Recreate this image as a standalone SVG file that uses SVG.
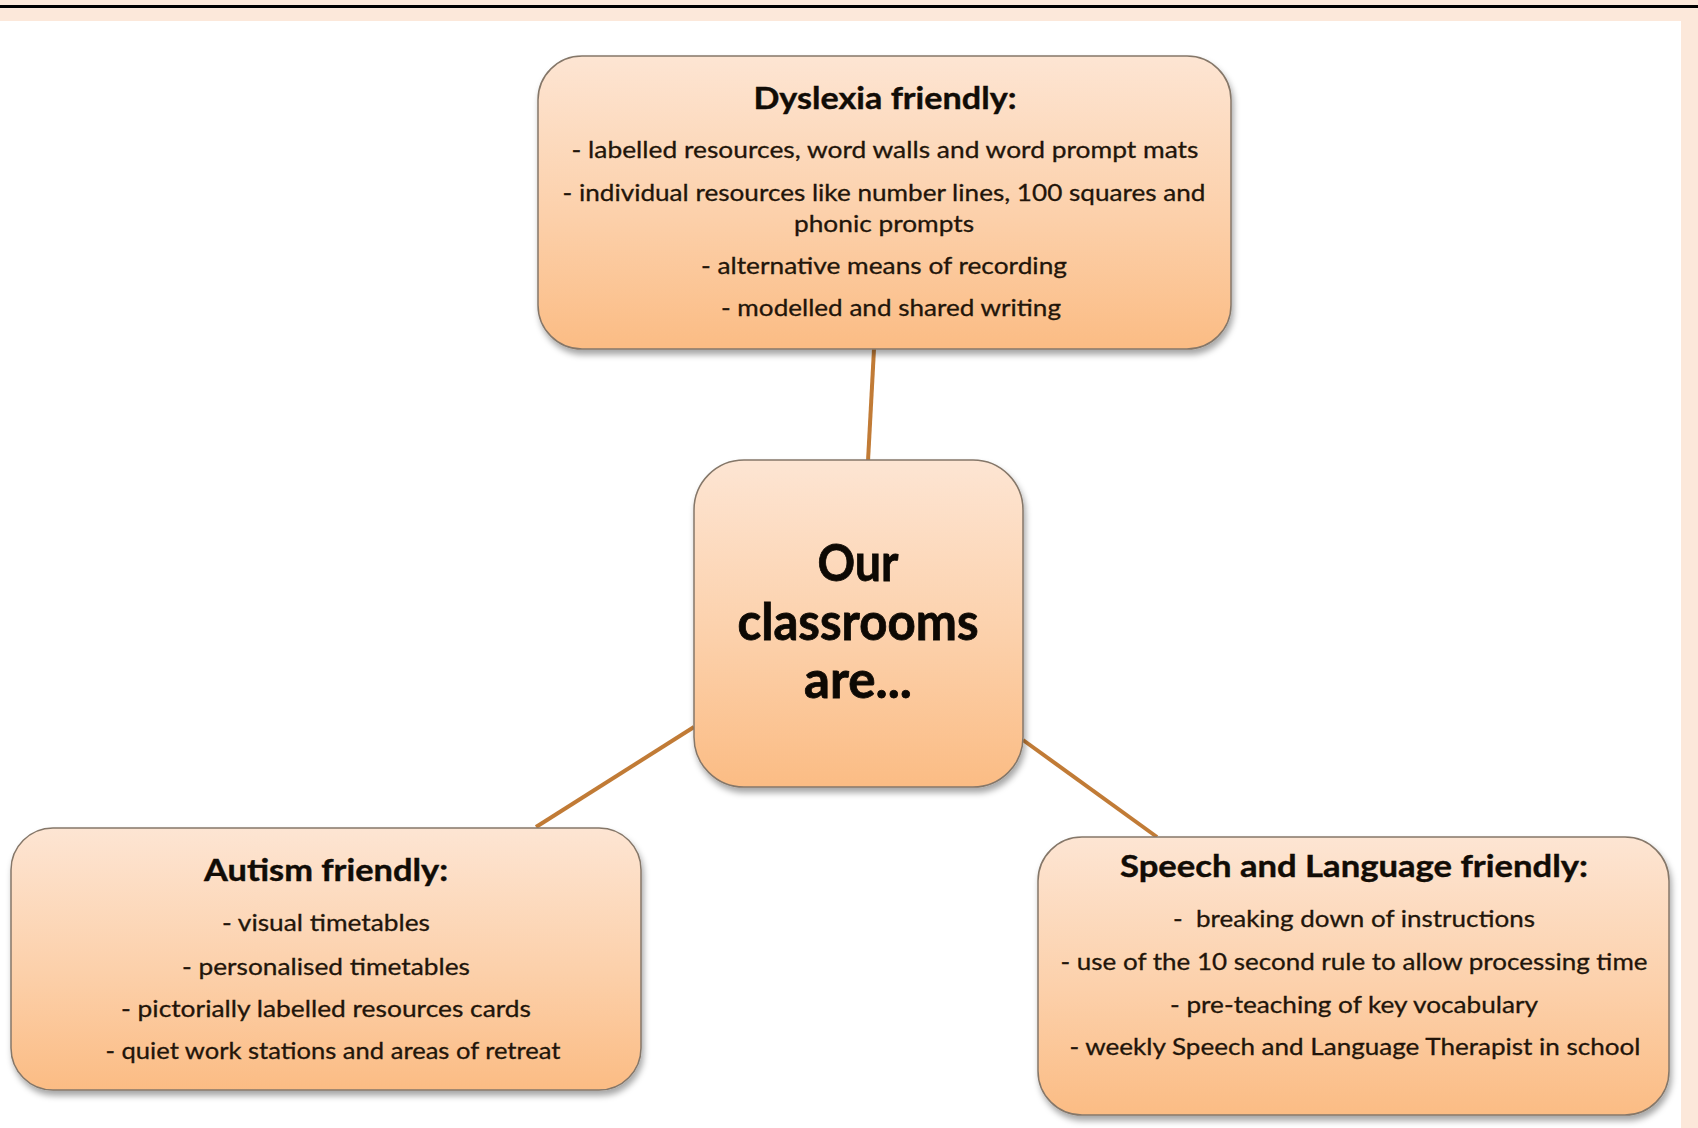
<svg xmlns="http://www.w3.org/2000/svg" width="1698" height="1128" viewBox="0 0 1698 1128">
  <defs>
    <linearGradient id="peach" x1="0" y1="0" x2="0" y2="1">
      <stop offset="0" stop-color="#fde5d3"/>
      <stop offset="0.55" stop-color="#fcd0aa"/>
      <stop offset="1" stop-color="#fbbc84"/>
    </linearGradient>
    <filter id="shadow" x="-10%" y="-10%" width="125%" height="130%">
      <feDropShadow dx="2" dy="5" stdDeviation="3" flood-color="#000" flood-opacity="0.35"/>
    </filter>
  </defs>
  <style>
    .box { fill: url(#peach); stroke: #857769; stroke-width: 1.5; filter: url(#shadow); }
    .link { stroke: #c17b36; stroke-width: 4; stroke-linecap: butt; fill: none; }
    .title { font-family: Lato, "Open Sans", sans-serif; font-weight: bold; font-size: 31px; fill: #110c06; stroke: #110c06; stroke-width: 0.4; text-anchor: middle; }
    .hub { font-family: Lato, "Open Sans", sans-serif; font-weight: bold; font-size: 52px; fill: #0d0904; stroke: #0d0904; stroke-width: 0.8; text-anchor: middle; }
    .item { font-family: Lato, "Open Sans", sans-serif; font-size: 24px; fill: #22150a; stroke: #22150a; stroke-width: 0.3; text-anchor: middle; white-space: pre; }
  </style>

  <!-- page background and frame bands -->
  <rect x="0" y="0" width="1698" height="1128" fill="#ffffff"/>
  <rect x="0" y="0" width="1698" height="21" fill="#fce8da"/>
  <rect x="1681" y="0" width="17" height="1128" fill="#fce8da"/>
  <rect x="0" y="5" width="1698" height="3" fill="#000000"/>

  <!-- connectors -->
  <g id="connectors">
    <line class="link" x1="874" y1="349" x2="868" y2="461"/>
    <line class="link" x1="694" y1="727" x2="536" y2="827"/>
    <line class="link" x1="1023" y1="740" x2="1157" y2="837"/>
  </g>

  <!-- central node -->
  <g id="hub">
    <rect class="box" x="694" y="460" width="329" height="327" rx="50" ry="50"/>
    <text class="hub" x="858" y="581" textLength="81" lengthAdjust="spacingAndGlyphs">Our</text>
    <text class="hub" x="858" y="640" textLength="241" lengthAdjust="spacingAndGlyphs">classrooms</text>
    <text class="hub" x="858" y="698" textLength="108" lengthAdjust="spacingAndGlyphs">are...</text>
  </g>

  <!-- dyslexia node -->
  <g id="dyslexia">
    <rect class="box" x="538" y="56" width="693" height="293" rx="44" ry="44"/>
    <text class="title" x="885" y="109" textLength="263" lengthAdjust="spacingAndGlyphs">Dyslexia friendly:</text>
    <text class="item" x="885" y="158" textLength="627" lengthAdjust="spacingAndGlyphs">- labelled resources, word walls and word prompt mats</text>
    <text class="item" x="884" y="201" textLength="643" lengthAdjust="spacingAndGlyphs">- individual resources like number lines, 100 squares and</text>
    <text class="item" x="884" y="232" textLength="180" lengthAdjust="spacingAndGlyphs">phonic prompts</text>
    <text class="item" x="884" y="274" textLength="366" lengthAdjust="spacingAndGlyphs">- alternative means of recording</text>
    <text class="item" x="891" y="316" textLength="340" lengthAdjust="spacingAndGlyphs">- modelled and shared writing</text>
  </g>

  <!-- autism node -->
  <g id="autism">
    <rect class="box" x="11" y="828" width="630" height="262" rx="42" ry="42"/>
    <text class="title" x="326" y="881" textLength="244" lengthAdjust="spacingAndGlyphs">Autism friendly:</text>
    <text class="item" x="326" y="931" textLength="208" lengthAdjust="spacingAndGlyphs">- visual timetables</text>
    <text class="item" x="326" y="975" textLength="288" lengthAdjust="spacingAndGlyphs">- personalised timetables</text>
    <text class="item" x="326" y="1017" textLength="410" lengthAdjust="spacingAndGlyphs">- pictorially labelled resources cards</text>
    <text class="item" x="333" y="1059" textLength="455" lengthAdjust="spacingAndGlyphs">- quiet work stations and areas of retreat</text>
  </g>

  <!-- speech and language node -->
  <g id="speech">
    <rect class="box" x="1038" y="837" width="631" height="278" rx="44" ry="44"/>
    <text class="title" x="1354" y="877" textLength="468" lengthAdjust="spacingAndGlyphs">Speech and Language friendly:</text>
    <text class="item" x="1354" y="927" textLength="362" lengthAdjust="spacingAndGlyphs">-  breaking down of instructions</text>
    <text class="item" x="1354" y="970" textLength="587" lengthAdjust="spacingAndGlyphs">- use of the 10 second rule to allow processing time</text>
    <text class="item" x="1354" y="1013" textLength="368" lengthAdjust="spacingAndGlyphs">- pre-teaching of key vocabulary</text>
    <text class="item" x="1355" y="1055" textLength="571" lengthAdjust="spacingAndGlyphs">- weekly Speech and Language Therapist in school</text>
  </g>
</svg>
